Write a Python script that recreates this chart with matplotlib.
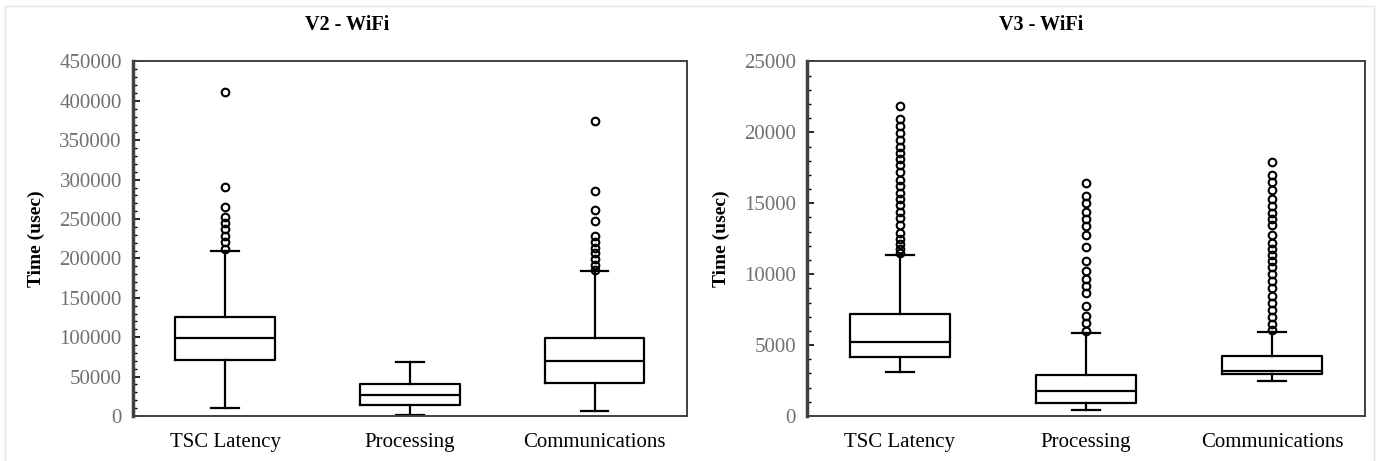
import matplotlib.pyplot as plt
from matplotlib.patches import Rectangle
from matplotlib.ticker import MultipleLocator

plt.rcParams['font.family'] = ['Liberation Serif', 'DejaVu Serif']

categories = ['TSC Latency', 'Processing', 'Communications']

# V2 - WiFi: summary stats (usec)
v2_q1 = [71500, 14500, 41800]
v2_med = [98500, 27000, 69500]
v2_q3 = [126000, 40000, 98500]
v2_lo = [10700, 1700, 6800]
v2_hi = [209600, 69000, 184500]
v2_out = [
    [411000, 291000, 265000, 253000, 244700, 237000, 229000, 221000, 212000],
    [],
    [375000, 286000, 261600, 248000, 228600, 221400, 213700, 206600, 199400, 192200, 185400],
]

# V3 - WiFi
v3_q1 = [4190, 950, 2980]
v3_med = [5210, 1790, 3190]
v3_q3 = [7170, 2900, 4210]
v3_lo = [3100, 430, 2480]
v3_hi = [11360, 5860, 5950]
v3_out = [
    [21860, 20950, 20450, 19950, 19450, 19000, 18550, 18100, 17670, 17190, 16670,
     16210, 15760, 15310, 14860, 14380, 13930, 13480, 12880, 12500, 12140, 11810, 11520],
    [16430, 15550, 15020, 14400, 13880, 13380, 12790, 11950, 10930, 10240, 9690,
     9190, 8690, 7790, 7070, 6550, 6000],
    [17880, 16980, 16480, 15930, 15330, 14810, 14330, 13860, 13480, 12760, 12210,
     11810, 11380, 10950, 10480, 9980, 9520, 9050, 8430, 7950, 7450, 6950, 6480, 6050],
]


def stats(q1, med, q3, lo, hi, out):
    res = []
    for i in range(len(categories)):
        res.append(dict(q1=q1[i], med=med[i], q3=q3[i], whislo=lo[i],
                        whishi=hi[i], fliers=out[i], label=categories[i]))
    return res


fig = plt.figure(figsize=(13.78, 4.61), dpi=100)
fig.patches.append(Rectangle((5 / 1378, -0.01), 1369 / 1378, (461 - 6) / 461 + 0.01,
                             transform=fig.transFigure, fill=False,
                             edgecolor='#e3e3e3', linewidth=1))

ax1 = fig.add_axes([0.0965, 0.0976, 0.402, 0.769])
ax2 = fig.add_axes([0.5856, 0.0976, 0.405, 0.769])

# titles sit centred on the whole chart area, not on the plot box
panels = [
    (ax1, stats(v2_q1, v2_med, v2_q3, v2_lo, v2_hi, v2_out), 'V2 - WiFi', 0.386, 450000, 50000, 10000),
    (ax2, stats(v3_q1, v3_med, v3_q3, v3_lo, v3_hi, v3_out), 'V3 - WiFi', 0.42, 25000, 5000, 1000),
]

line = dict(color='black', linewidth=1.6)
for ax, st, title, tx, ymax, major, minor in panels:
    ax.bxp(st, widths=0.54, capwidths=0.15,
           boxprops=line, whiskerprops=line, capprops=line,
           medianprops=line,
           flierprops=dict(marker='o', markersize=5.5, markerfacecolor='none',
                           markeredgecolor='black', markeredgewidth=1.5))
    ax.set_xlim(0.5, 3.5)
    ax.set_ylim(0, ymax)
    ax.yaxis.set_major_locator(MultipleLocator(major))
    ax.yaxis.set_minor_locator(MultipleLocator(minor))
    ax.tick_params(axis='y', which='major', direction='in', length=5, width=1.2,
                   labelsize=15, labelcolor='#707070', pad=8)
    ax.tick_params(axis='y', which='minor', direction='in', length=3, width=1)
    ax.tick_params(axis='x', length=0, labelsize=15, pad=12)
    for s in ax.spines.values():
        s.set_color('#404040')
        s.set_linewidth(1.4)
    ax.spines['left'].set_linewidth(2.5)
    ax.set_title(title, x=tx, fontsize=14.5, fontweight='bold', pad=23)
    ax.set_ylabel('Time (usec)', fontsize=14, fontweight='bold', labelpad=10)

fig.savefig('out.png', dpi=100)
